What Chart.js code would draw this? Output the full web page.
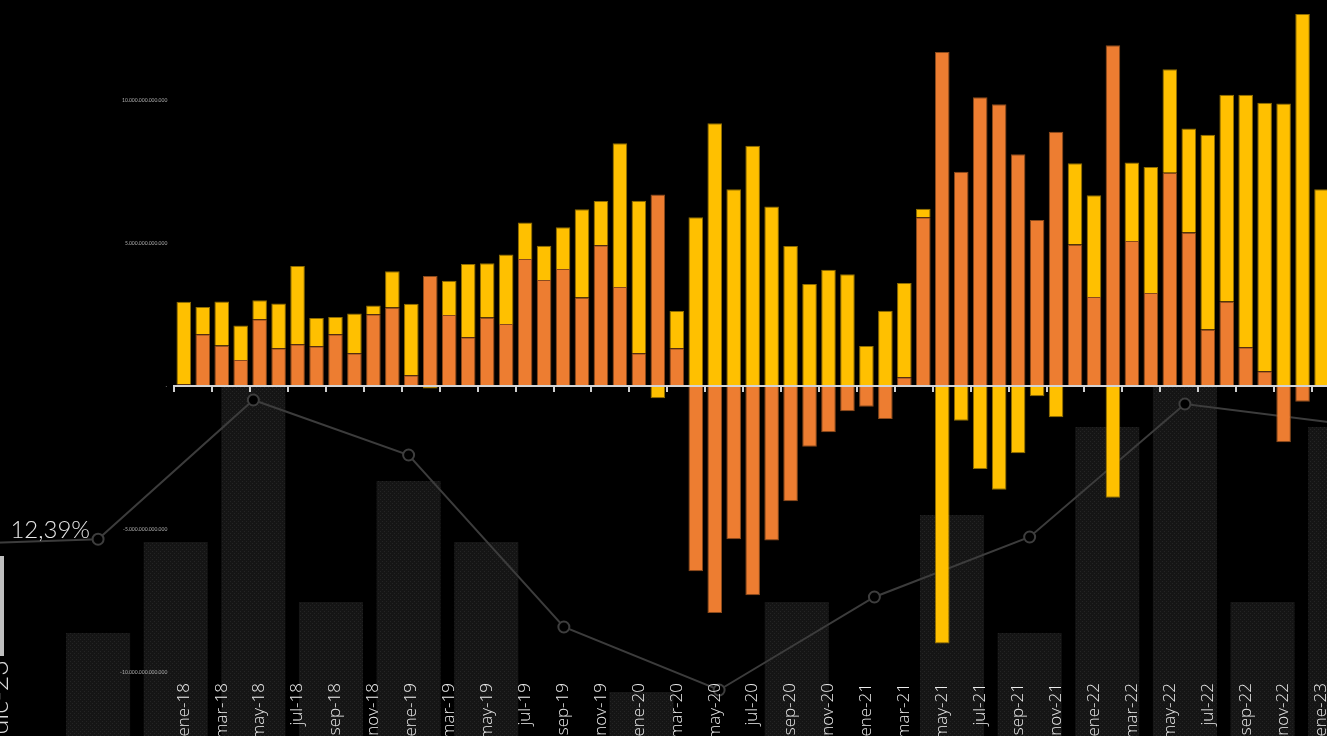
<!DOCTYPE html>
<html lang="es">
<head>
<meta charset="utf-8">
<title>Saldo mensual</title>
<script src="https://cdn.jsdelivr.net/npm/chart.js@4.4.1/dist/chart.umd.min.js"></script>
<style>
  html, body { margin: 0; padding: 0; background: #000; width: 1327px; height: 736px; overflow: hidden; }
  #fondo { position: absolute; left: -96px; top: 387px; }
  #barras { position: absolute; left: 0; top: 0; }
  #marca { position: absolute; left: 0; top: 556px; width: 4px; height: 100px; background: #bfbfbf; }
  #rotulo { position: absolute; left: -16px; top: 660px; writing-mode: vertical-rl; transform: rotate(180deg);
            font: 300 27px Lato, sans-serif; line-height: 27px; color: #d9d9d9; white-space: nowrap; }
</style>
</head>
<body>
<canvas id="fondo" width="1475" height="400"></canvas>
<canvas id="barras" width="1331" height="758"></canvas>
<div id="marca"></div>
<div id="rotulo">dic-23</div>
<script>
// meses del grafico principal
var meses = ["ene-18","feb-18","mar-18","abr-18","may-18","jun-18","jul-18","ago-18","sep-18","oct-18","nov-18","dic-18",
  "ene-19","feb-19","mar-19","abr-19","may-19","jun-19","jul-19","ago-19","sep-19","oct-19","nov-19","dic-19",
  "ene-20","feb-20","mar-20","abr-20","may-20","jun-20","jul-20","ago-20","sep-20","oct-20","nov-20","dic-20",
  "ene-21","feb-21","mar-21","abr-21","may-21","jun-21","jul-21","ago-21","sep-21","oct-21","nov-21","dic-21",
  "ene-22","feb-22","mar-22","abr-22","may-22","jun-22","jul-22","ago-22","sep-22","oct-22","nov-22","dic-22",
  "ene-23"];

// valores en billones (x 1.000.000.000.000)
var naranja = [0.06,1.81,1.42,0.91,2.34,1.32,1.46,1.39,1.81,1.15,2.51,2.75,
  0.38,3.85,2.48,1.71,2.40,2.17,4.44,3.71,4.09,3.10,4.92,3.46,
  1.15,6.70,1.32,-6.48,-7.94,-5.36,-7.32,-5.40,-4.03,-2.12,-1.62,-0.88,
  -0.72,-1.15,0.31,5.90,11.68,7.49,10.10,9.85,8.11,5.81,8.89,4.95,
  3.11,11.92,5.07,3.25,7.46,5.37,1.98,2.96,1.36,0.52,-1.97,-0.55,
  0];
var amarillo = [2.89,0.95,1.54,1.21,0.66,1.57,2.74,0.99,0.60,1.39,0.31,1.26,
  2.50,-0.09,1.20,2.56,1.89,2.43,1.28,1.20,1.46,3.08,1.55,5.03,
  5.33,-0.43,1.30,5.90,9.19,6.88,8.40,6.28,4.90,3.57,4.07,3.91,
  1.40,2.63,3.29,0.30,-9.00,-1.21,-2.90,-3.63,-2.35,-0.36,-1.09,2.84,
  3.56,-3.91,2.75,4.41,3.62,3.64,6.81,7.23,8.83,9.39,9.88,13.01,
  6.88];
var escala = 1e12;
var marcasY = [-10e12, -5e12, 0, 5e12, 10e12];

// grafico de fondo
var periodos = ["p1","p2","p3","p4","p5","p6","p7","p8","p9","p10","p11","p12","p13","p14","p15","p16","p17","p18","p19"];
var fondoBarras = [2.0,1.8,7.7,12.25,20,9.25,15.3,12.25,2.0,4.75,1.5,9.25,2.2,13.6,7.7,18.0,20,9.25,18.0];
var tasa = [12.13,null,12.39,null,19.35,null,16.6,null,8.0,null,4.85,null,9.5,null,12.5,null,19.15,null,18.17];
var periodoEtiqueta = "p3";

function miles(v) {
  if (v === 0) return '-';
  var s = Math.abs(Math.round(v)).toString().replace(/\B(?=(\d{3})+(?!\d))/g, '.');
  return (v < 0 ? '-' : '') + s;
}

function trama() {
  var c = document.createElement('canvas');
  c.width = 4; c.height = 4;
  var g = c.getContext('2d');
  g.fillStyle = '#151515'; g.fillRect(0, 0, 4, 4);
  g.fillStyle = '#242424'; g.fillRect(0, 0, 1, 1); g.fillRect(2, 2, 1, 1);
  return g.createPattern(c, 'repeat');
}

var etiquetaTasa = {
  id: 'etiquetaTasa',
  afterDatasetsDraw: function(chart) {
    var i = periodos.indexOf(periodoEtiqueta);
    var p = chart.getDatasetMeta(0).data[i];
    var ctx = chart.ctx;
    ctx.save();
    ctx.font = '300 24px Lato, sans-serif';
    ctx.fillStyle = '#e6e6e6';
    ctx.textAlign = 'right';
    ctx.textBaseline = 'alphabetic';
    ctx.fillText(tasa[i].toFixed(2).replace('.', ',') + '%', p.x - 8, p.y - 1);
    ctx.restore();
  }
};

new Chart(document.getElementById('fondo'), {
  type: 'bar',
  data: {
    labels: periodos,
    datasets: [
      { type: 'line', data: tasa, yAxisID: 'yt', borderColor: '#3c3c3c', borderWidth: 2, tension: 0,
        pointRadius: 5.5, pointBorderWidth: 2, pointBackgroundColor: '#000', pointBorderColor: '#3e3e3e',
        spanGaps: true, order: 0 },
      { data: fondoBarras, yAxisID: 'yb', backgroundColor: trama(), borderWidth: 0,
        barPercentage: 0.825, categoryPercentage: 1, order: 1 }
    ]
  },
  options: {
    responsive: false, animation: false, devicePixelRatio: 1,
    layout: { padding: 0, autoPadding: false },
    plugins: { legend: { display: false }, tooltip: { enabled: false } },
    scales: {
      x: { display: false },
      yb: { display: false, min: 0, max: 20 },
      yt: { display: false, min: 0, max: 20 }
    }
  },
  plugins: [etiquetaTasa]
});

new Chart(document.getElementById('barras'), {
  type: 'bar',
  data: {
    labels: meses,
    datasets: [
      { data: naranja.map(function(v) { return v * escala; }), backgroundColor: '#ED7D31', borderColor: '#8a4a1c', borderWidth: 1,
        barPercentage: 0.77, categoryPercentage: 1 },
      { data: amarillo.map(function(v) { return v * escala; }), backgroundColor: '#FFC000', borderColor: '#8f6d00', borderWidth: 1,
        barPercentage: 0.77, categoryPercentage: 1 }
    ]
  },
  options: {
    responsive: false, animation: false, devicePixelRatio: 1,
    layout: { padding: 0, autoPadding: false },
    plugins: { legend: { display: false }, tooltip: { enabled: false } },
    scales: {
      x: {
        stacked: true,
        grid: { display: false, drawTicks: false },
        border: { display: false },
        ticks: {
          autoSkip: false, maxRotation: 90, minRotation: 90, padding: 5,
          color: '#ececec', font: { family: 'Open Sans', weight: '300', size: 17 },
          callback: function(v, i) { return i % 2 === 0 ? meses[i] : ''; }
        },
        afterFit: function(s) { s.height = 80; s.paddingLeft = 0; s.paddingRight = 0; }
      },
      x0: {
        type: 'category', position: { y: 0 }, offset: true,
        grid: { offset: true, drawOnChartArea: false, drawTicks: true, tickLength: 5, lineWidth: 2, z: 1,
          color: function(c) { return c.index % 2 === 0 ? '#cfcfcf' : 'rgba(0,0,0,0)'; } },
        border: { display: true, color: '#d4d4d4', width: 2, z: 1 },
        ticks: { display: false },
        afterFit: function(s) { s.paddingLeft = 0; s.paddingRight = 0; }
      },
      y: {
        stacked: true, min: -10.21e12, max: 13.5e12,
        grid: { display: false, drawTicks: false },
        border: { display: false },
        afterBuildTicks: function(s) { s.ticks = marcasY.map(function(v) { return { value: v }; }); },
        ticks: {
          padding: 7, color: '#b0b0b0',
          font: { family: 'Lato', size: 5 },
          callback: function(v) { return miles(v); }
        },
        afterFit: function(s) { s.width = 174.3; s.paddingTop = 0; s.paddingBottom = 0; }
      }
    }
  }
});
</script>
</body>
</html>
